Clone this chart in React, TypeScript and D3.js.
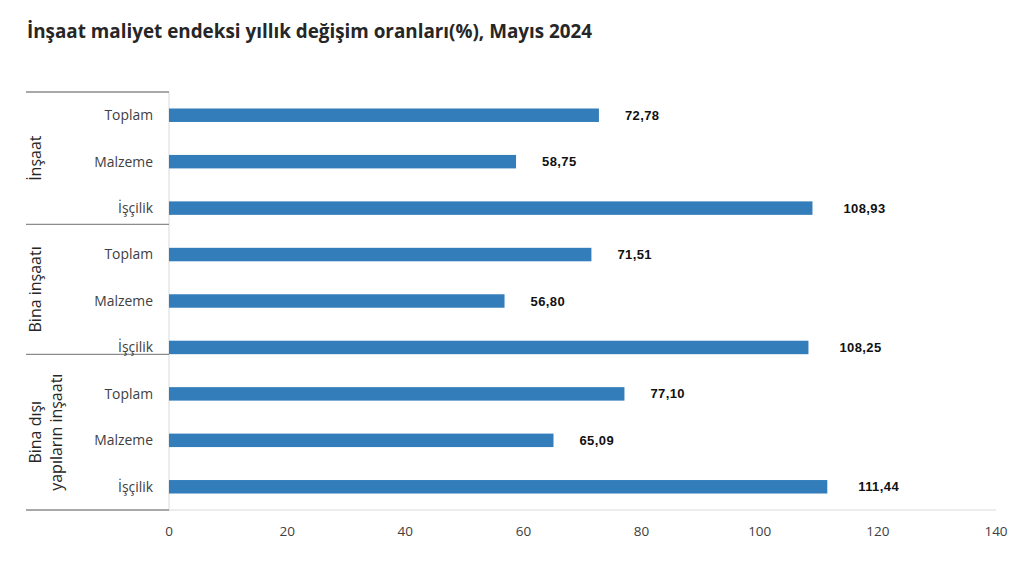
import React from "react";
import * as d3 from "d3";

const title = "İnşaat maliyet endeksi yıllık değişim oranları(%), Mayıs 2024";
const groups = [["İnşaat"], ["Bina inşaatı"], ["Bina dışı", "yapıların inşaatı"]];
const subCategories = ["Toplam", "Malzeme", "İşçilik"];
const values = [72.78, 58.75, 108.93, 71.51, 56.8, 108.25, 77.1, 65.09, 111.44];
const xTicks = [0, 20, 40, 60, 80, 100, 120, 140];

const W = 1028;
const H = 570;
const M = { left: 169, right: 996, top: 92, bottom: 510 };
const BAR = "#337DBA";

export default function App() {
  const rows = values.map((v, i) => ({
    key: `${i}`,
    group: Math.floor(i / subCategories.length),
    cat: subCategories[i % subCategories.length],
    value: v,
  }));
  const x = d3.scaleLinear().domain([0, 140]).range([M.left, M.right]);
  const y = d3
    .scaleBand<string>()
    .domain(rows.map((r) => r.key))
    .range([M.top, M.bottom])
    .paddingInner(0.71)
    .paddingOuter(0.355);
  const step = y.step();
  const center = (k: string) => (y(k) as number) + y.bandwidth() / 2;
  const fmt = (v: number) => d3.format(".2f")(v).replace(".", ",");

  // group separators (excel-style multi-level category axis)
  const sepFrac = [0.35, 0.15];
  const seps: number[] = [M.top];
  groups.forEach((_, g) => {
    if (g < groups.length - 1) {
      const lastKey = `${(g + 1) * subCategories.length - 1}`;
      seps.push(center(lastKey) + step * sepFrac[g]);
    }
  });
  seps.push(M.bottom);

  return (
    <svg
      width={W}
      height={H}
      style={{ position: "absolute", left: 0, top: 0, background: "#fff" }}
    >
      <text
        x={27}
        y={38}
        fontFamily="'Open Sans', sans-serif"
        fontWeight={700}
        fontSize={18.85}
        fill="#262626"
      >
        {title}
      </text>

      {/* axis lines */}
      <line x1={M.left} x2={M.left} y1={M.top} y2={M.bottom} stroke="#d9d9d9" />
      <line x1={M.left} x2={M.right} y1={M.bottom} y2={M.bottom} stroke="#d9d9d9" />
      {seps.map((s, i) => (
        <line key={i} x1={26} x2={M.left} y1={s} y2={s} stroke="#8c8c8c" strokeWidth={1.3} />
      ))}

      {/* bars */}
      {rows.map((r) => (
        <rect
          key={r.key}
          x={x(0)}
          y={y(r.key)}
          width={x(r.value) - x(0)}
          height={y.bandwidth()}
          fill={BAR}
        />
      ))}

      {/* value labels */}
      {rows.map((r) => {
        const s = fmt(r.value);
        return (
          <text
            key={r.key}
            x={x(r.value) + 26 + (s.length - 5) * 5}
            y={center(r.key)}
            dy="0.35em"
            fontFamily="'Liberation Sans', Arial, sans-serif"
            fontWeight={700}
            fontSize={13}
            letterSpacing={0.4}
            fill="#111"
          >
            {s}
          </text>
        );
      })}

      {/* category labels */}
      {rows.map((r) => (
        <text
          key={r.key}
          x={153}
          y={center(r.key)}
          dy="0.35em"
          textAnchor="end"
          fontFamily="'Open Sans', sans-serif"
          fontSize={13.9}
          fill="#404040"
        >
          {r.cat}
        </text>
      ))}

      {/* group labels */}
      {groups.map((lines, g) => {
        const cy = (seps[g] + seps[g + 1]) / 2;
        const baselines = lines.length === 1 ? [41] : [41, 62];
        return lines.map((ln, j) => (
          <text
            key={`${g}-${j}`}
            transform={`translate(${baselines[j]},${cy}) rotate(-90)`}
            textAnchor="middle"
            fontFamily="'Open Sans', sans-serif"
            fontSize={16}
            fill="#262626"
          >
            {ln}
          </text>
        ));
      })}

      {/* x ticks */}
      {xTicks.map((t) => (
        <text
          key={t}
          x={x(t)}
          y={536}
          textAnchor="middle"
          fontFamily="'Open Sans', sans-serif"
          fontSize={13.5}
          fill="#404040"
        >
          {t}
        </text>
      ))}
    </svg>
  );
}
